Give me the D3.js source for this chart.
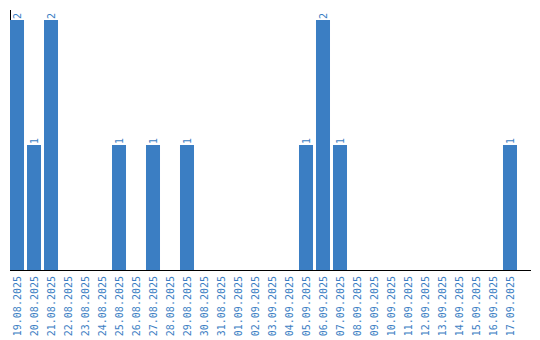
<!DOCTYPE html>
<html>
  <head>
    <meta charset="UTF-8" />
    <style>
      body { margin: 0; background: #fff; }
      text { font-family: "DejaVu Sans Mono", monospace; font-size: 10px; fill: #3b7ec3; }
    </style>
  </head>
  <body>
    <svg></svg>
    <script src="https://d3js.org/d3.v7.min.js"></script>
    <script>
      const dates = [
        "19.08.2025", "20.08.2025", "21.08.2025", "22.08.2025", "23.08.2025",
        "24.08.2025", "25.08.2025", "26.08.2025", "27.08.2025", "28.08.2025",
        "29.08.2025", "30.08.2025", "31.08.2025", "01.09.2025", "02.09.2025",
        "03.09.2025", "04.09.2025", "05.09.2025", "06.09.2025", "07.09.2025",
        "08.09.2025", "09.09.2025", "10.09.2025", "11.09.2025", "12.09.2025",
        "13.09.2025", "14.09.2025", "15.09.2025", "16.09.2025", "17.09.2025",
      ];
      const counts = [2, 1, 2, 0, 0, 0, 1, 0, 1, 0, 1, 0, 0, 0, 0, 0, 0, 1, 2, 1, 0, 0, 0, 0, 0, 0, 0, 0, 0, 1];

      const width = 540, height = 340;
      const svg = d3.select("svg").attr("width", width).attr("height", height);

      const x = d3.scaleBand().domain(dates).range([10, 517]).paddingInner(0.176).paddingOuter(0);
      const y = d3.scaleLinear().domain([0, 2]).range([270, 20]);

      // axis lines
      svg.append("line")
        .attr("x1", 10.5).attr("x2", 10.5)
        .attr("y1", 10).attr("y2", y(0))
        .attr("stroke", "#000");

      const data = dates.map((d, i) => ({ date: d, v: counts[i] }));

      svg.append("g").selectAll("rect")
        .data(data.filter(d => d.v > 0))
        .join("rect")
        .attr("x", d => x(d.date))
        .attr("y", d => y(d.v))
        .attr("width", x.bandwidth())
        .attr("height", d => y(0) - y(d.v))
        .attr("fill", "#3b7ec3");

      svg.append("line")
        .attr("x1", 10).attr("x2", 531)
        .attr("y1", y(0) + 0.5).attr("y2", y(0) + 0.5)
        .attr("stroke", "#000");

      // value labels
      svg.append("g").selectAll("text")
        .data(data.filter(d => d.v > 0))
        .join("text")
        .attr("transform", d => `translate(${x(d.date) + x.bandwidth() / 2 + 4},${y(d.v) - 1}) rotate(-90)`)
        .attr("text-anchor", "start")
        .text(d => d.v);

      // date labels
      svg.append("g").selectAll("text")
        .data(dates)
        .join("text")
        .attr("transform", d => `translate(${x(d) + x.bandwidth() / 2 + 4},${y(0) + 6}) rotate(-90)`)
        .attr("text-anchor", "end")
        .text(d => d);
    </script>
  </body>
</html>
